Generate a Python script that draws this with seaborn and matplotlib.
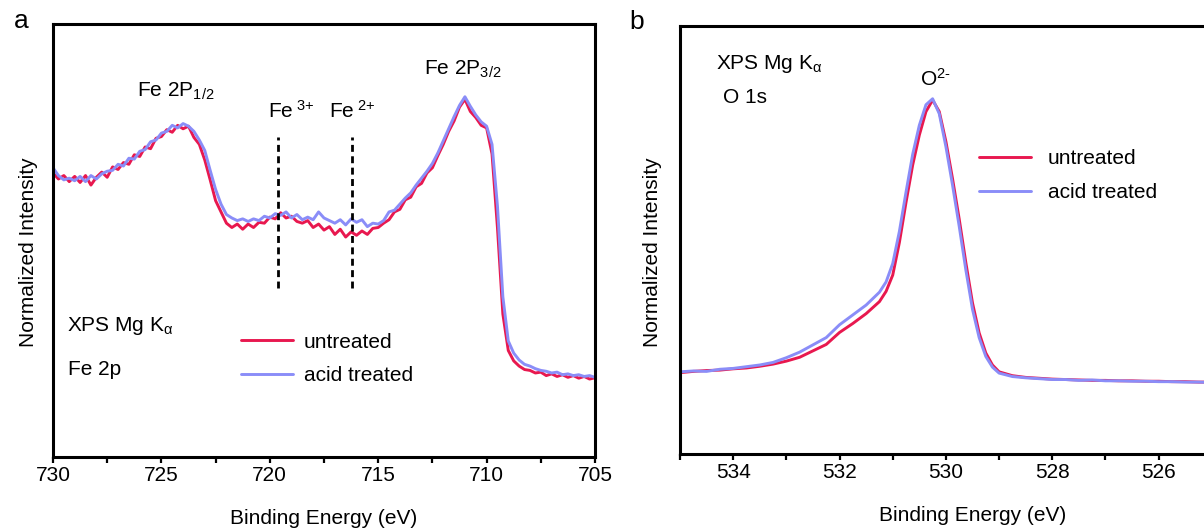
import numpy as np
import pandas as pd
import matplotlib
matplotlib.use("Agg")
import matplotlib.pyplot as plt
import seaborn as sns
from matplotlib.ticker import MultipleLocator, FixedLocator

# ---- data (intensities normalised to the axis height) ----
samples = ['untreated', 'acid treated']
cores = {'untreated': '#E8184F', 'acid treated': '#8A8DF8'}

# Fe 2p, 730 -> 705 eV every 0.25 eV
energia_fe = np.arange(730.0, 704.99, -0.25)
fe_untreated = [
    0.656, 0.642, 0.650, 0.636, 0.648, 0.634, 0.650, 0.628, 0.646, 0.658,
    0.646, 0.670, 0.664, 0.680, 0.676, 0.698, 0.694, 0.716, 0.712, 0.736,
    0.740, 0.756, 0.750, 0.766, 0.758, 0.764, 0.738, 0.722, 0.686, 0.640,
    0.592, 0.566, 0.540, 0.530, 0.538, 0.526, 0.538, 0.530, 0.542, 0.540,
    0.554, 0.550, 0.564, 0.552, 0.556, 0.544, 0.540, 0.546, 0.530, 0.538,
    0.524, 0.532, 0.514, 0.526, 0.508, 0.520, 0.512, 0.522, 0.514, 0.528,
    0.530, 0.540, 0.548, 0.566, 0.572, 0.594, 0.600, 0.624, 0.632, 0.656,
    0.668, 0.696, 0.722, 0.752, 0.776, 0.808, 0.826, 0.798, 0.784, 0.766,
    0.760, 0.700, 0.530, 0.330, 0.246, 0.222, 0.210, 0.202, 0.200, 0.194,
    0.196, 0.188, 0.192, 0.186, 0.190, 0.184, 0.188, 0.182, 0.186, 0.180,
    0.183,
]
fe_acid = [
    0.668, 0.650, 0.640, 0.644, 0.638, 0.648, 0.636, 0.650, 0.642, 0.654,
    0.660, 0.662, 0.676, 0.672, 0.690, 0.688, 0.706, 0.710, 0.728, 0.732,
    0.748, 0.752, 0.766, 0.760, 0.770, 0.764, 0.752, 0.732, 0.708, 0.662,
    0.618, 0.584, 0.560, 0.552, 0.546, 0.550, 0.544, 0.550, 0.546, 0.556,
    0.552, 0.562, 0.558, 0.566, 0.552, 0.560, 0.548, 0.554, 0.548, 0.566,
    0.552, 0.546, 0.540, 0.548, 0.536, 0.550, 0.542, 0.548, 0.532, 0.540,
    0.538, 0.546, 0.566, 0.570, 0.584, 0.598, 0.610, 0.628, 0.644, 0.660,
    0.678, 0.702, 0.730, 0.758, 0.786, 0.812, 0.832, 0.810, 0.790, 0.774,
    0.764, 0.722, 0.580, 0.370, 0.268, 0.240, 0.224, 0.214, 0.210, 0.204,
    0.200, 0.198, 0.194, 0.196, 0.190, 0.192, 0.188, 0.190, 0.186, 0.188,
    0.184,
]

# O 1s
energia_o = [
    535.0, 534.75, 534.5, 534.25, 534.0, 533.75, 533.5, 533.25, 533.0, 532.75,
    532.5, 532.25, 532.0, 531.75, 531.5, 531.25, 531.125, 531.0, 530.875, 530.75,
    530.625, 530.5, 530.375, 530.25, 530.125, 530.0, 529.875, 529.75, 529.625, 529.5,
    529.375, 529.25, 529.125, 529.0, 528.75, 528.5, 528.25, 528.0, 527.75, 527.5,
    527.25, 527.0, 526.75, 526.5, 526.25, 526.0, 525.75, 525.5, 525.25, 525.0,
    524.75, 524.5,
]
o_untreated = [
    0.190, 0.193, 0.195, 0.196, 0.199, 0.201, 0.205, 0.210, 0.217, 0.226,
    0.241, 0.256, 0.284, 0.305, 0.328, 0.356, 0.380, 0.418, 0.494, 0.588,
    0.675, 0.745, 0.800, 0.827, 0.800, 0.730, 0.643, 0.549, 0.447, 0.353,
    0.283, 0.236, 0.208, 0.192, 0.183, 0.179, 0.177, 0.175, 0.174, 0.173,
    0.172, 0.172, 0.171, 0.171, 0.170, 0.170, 0.169, 0.169, 0.168, 0.168,
    0.168, 0.167,
]
o_acid = [
    0.192, 0.194, 0.193, 0.198, 0.200, 0.204, 0.208, 0.214, 0.225, 0.238,
    0.255, 0.272, 0.302, 0.325, 0.348, 0.378, 0.402, 0.445, 0.520, 0.612,
    0.700, 0.768, 0.816, 0.830, 0.795, 0.718, 0.628, 0.532, 0.430, 0.338,
    0.272, 0.228, 0.203, 0.189, 0.181, 0.178, 0.176, 0.174, 0.174, 0.172,
    0.173, 0.171, 0.171, 0.170, 0.170, 0.169, 0.169, 0.168, 0.168, 0.167,
    0.167, 0.166,
]

# ticks visiveis do painel b (o eixo continua alem da borda)
ticks_o = [534, 532, 530, 528, 526]
ticks_o_menores = [535, 533, 531, 529, 527, 525]

# posicoes das linhas tracejadas Fe3+ / Fe2+
linhas_fe = [719.6, 716.2]


def monta_df(x, curvas):
    partes = []
    for nome, y in zip(samples, curvas):
        partes.append(pd.DataFrame({'energy': x, 'intensity': y, 'sample': nome}))
    return pd.concat(partes, ignore_index=True)


df_fe = monta_df(energia_fe, [fe_untreated, fe_acid])
df_o = monta_df(energia_o, [o_untreated, o_acid])

sns.set_style('ticks')
plt.rcParams['font.family'] = ['Liberation Sans', 'DejaVu Sans']
plt.rcParams['mathtext.fontset'] = 'custom'
plt.rcParams['mathtext.rm'] = 'Liberation Sans'
plt.rcParams['mathtext.it'] = 'Liberation Sans'
plt.rcParams['mathtext.default'] = 'rm'
for k in ['text.color', 'axes.labelcolor', 'xtick.color', 'ytick.color', 'axes.edgecolor']:
    plt.rcParams[k] = 'black'

fig = plt.figure(figsize=(12.04, 5.29), dpi=100)
ax_a = fig.add_axes([53 / 1204, 72 / 529, 542 / 1204, 433 / 529])
ax_b = fig.add_axes([680 / 1204, 75 / 529, 585 / 1204, 428 / 529])

for ax, df in [(ax_a, df_fe), (ax_b, df_o)]:
    sns.lineplot(data=df, x='energy', y='intensity', hue='sample', hue_order=samples,
                 palette=cores, lw=2.1, errorbar=None, ax=ax)
    ax.set_ylim(0, 1)
    ax.set_yticks([])
    for s in ax.spines.values():
        s.set_linewidth(2.2)
    ax.tick_params(axis='x', which='major', direction='out', length=4.5, width=1.6,
                   labelsize=15, pad=2)
    ax.tick_params(axis='x', which='minor', direction='out', length=4, width=1.6)
    ax.set_xlabel('Binding Energy (eV)', fontsize=15, labelpad=17)
    ax.set_ylabel('Normalized Intensity', fontsize=15)

ax_a.yaxis.set_label_coords(-0.028, 0.473)
ax_b.yaxis.set_label_coords(-0.030, 0.472)

# ---- painel a ----
ax_a.set_xlim(730, 705)
ax_a.xaxis.set_major_locator(MultipleLocator(5))
ax_a.xaxis.set_minor_locator(MultipleLocator(2.5))
for xv in linhas_fe:
    ax_a.plot([xv, xv], [0.39, 0.738], color='black', lw=2, ls=(0, (2.5, 1.6)))
ax_a.text(724.33, 0.845, 'Fe 2P$_{1/2}$', fontsize=15, ha='center', va='center')
ax_a.text(711.09, 0.896, 'Fe 2P$_{3/2}$', fontsize=15, ha='center', va='center')
ax_a.text(719.02, 0.80, r'Fe$^{\text{ 3+}}$', fontsize=15, ha='center', va='center')
ax_a.text(716.2, 0.80, r'Fe$^{\text{ 2+}}$', fontsize=15, ha='center', va='center')
ax_a.text(729.35, 0.303, 'XPS Mg K$_{α}$', fontsize=15, ha='left', va='center')
ax_a.text(729.3, 0.201, 'Fe 2p', fontsize=15, ha='left', va='center')
h, l = ax_a.get_legend_handles_labels()
ax_a.legend(h, l, loc='upper left', bbox_to_anchor=(0.347, 0.287), frameon=False,
            fontsize=15, handlelength=2.5, handletextpad=0.5, labelspacing=0.7,
            borderpad=0, borderaxespad=0)

# ---- painel b ----
ax_b.set_xlim(535, 524)
ax_b.xaxis.set_major_locator(FixedLocator(ticks_o))
ax_b.xaxis.set_minor_locator(FixedLocator(ticks_o_menores))
ax_b.text(534.33, 0.911, 'XPS Mg K$_{α}$', fontsize=15, ha='left', va='center')
ax_b.text(534.2, 0.834, 'O 1s', fontsize=15, ha='left', va='center')
ax_b.text(530.2, 0.876, r'O$^{\text{2-}}$', fontsize=15, ha='center', va='center')
h, l = ax_b.get_legend_handles_labels()
ax_b.legend(h, l, loc='upper left', bbox_to_anchor=((979 - 680) / 585, 0.713),
            frameon=False, fontsize=15, handlelength=2.5, handletextpad=0.8,
            labelspacing=0.75, borderpad=0, borderaxespad=0)

fig.text(21 / 1204, 1 - 21 / 529, 'a', fontsize=19, ha='center', va='center')
fig.text(637 / 1204, 1 - 22 / 529, 'b', fontsize=19, ha='center', va='center')

fig.savefig('out.png', dpi=100)
